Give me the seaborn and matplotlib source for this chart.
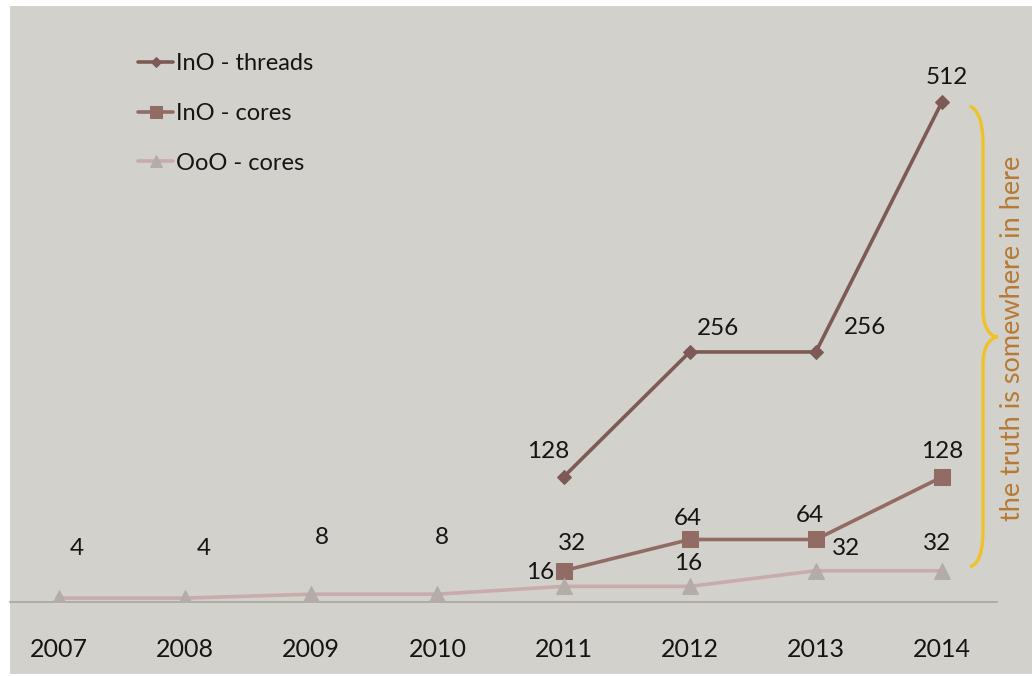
import matplotlib
matplotlib.use("Agg")
import matplotlib.pyplot as plt
import seaborn as sns
import numpy as np
import pandas as pd
from matplotlib.patches import Rectangle, PathPatch
from matplotlib.path import Path

years = ["2007", "2008", "2009", "2010", "2011", "2012", "2013", "2014"]
ino_threads = [np.nan, np.nan, np.nan, np.nan, 128, 256, 256, 512]
ino_cores = [np.nan, np.nan, np.nan, np.nan, 32, 64, 64, 128]
ooo_cores = [4, 4, 8, 8, 16, 16, 32, 32]
series_names = ["InO - threads", "InO - cores", "OoO - cores"]
note_text = "the truth is somewhere in here"

sns.set_theme(style="white")
plt.rcParams["font.family"] = ["Lato", "DejaVu Sans"]

W, H = 1032, 676
fig = plt.figure(figsize=(W / 100, H / 100), dpi=100)
fig.patch.set_facecolor("white")
bg = "#d3d1cb"
fig.patches.append(Rectangle((10 / W, 2 / H), 1 - 10 / W, (670 - 2) / H,
                             transform=fig.transFigure, facecolor=bg,
                             edgecolor="none", zorder=-10))

ax = fig.add_axes([10 / W, 74 / H, 987 / W, 586 / H])
ax.set_facecolor("none")

idx = np.arange(len(years))
df = pd.DataFrame({"x": np.tile(idx, 3),
                   "value": ino_threads + ino_cores + ooo_cores,
                   "series": np.repeat(series_names, len(years))})

c_thr = "#7d5a55"
c_core = "#926b65"
c_ooo_line = "#c8abab"
c_ooo_mk = "#b3aca8"

styles = {
    series_names[0]: dict(color=c_thr, marker="D", markersize=7, lw=2.6,
                          mfc=c_thr, mec=c_thr),
    series_names[1]: dict(color=c_core, marker="s", markersize=11, lw=2.6,
                          mfc=c_core, mec=c_core),
    series_names[2]: dict(color=c_ooo_line, marker="^", markersize=11, lw=2.6,
                          mfc=c_ooo_mk, mec=c_ooo_mk),
}
for name in series_names:
    sub = df[df["series"] == name].dropna()
    st = styles[name]
    sns.lineplot(data=sub, x="x", y="value", ax=ax, color=st["color"],
                 linewidth=st["lw"], marker=st["marker"],
                 markersize=st["markersize"], markerfacecolor=st["mfc"],
                 markeredgecolor=st["mec"], label=name, zorder=3)

ax.set_xlim(-0.388, 7.436)
ax.set_ylim(0, 600)
ax.set_xticks(idx)
ax.set_xticklabels(years, fontsize=18, color="#151515")
ax.set_xticks(np.arange(0.5, 7.5, 1.0), minor=True)
ax.tick_params(axis="x", which="major", length=0, pad=26)
ax.tick_params(axis="x", which="minor", length=7, width=1, color="#a8a49f",
               direction="out")
ax.set_yticks([])
ax.set_xlabel("")
ax.set_ylabel("")
for s in ["left", "right", "top"]:
    ax.spines[s].set_visible(False)
ax.spines["bottom"].set_color("#a8a49f")
ax.spines["bottom"].set_linewidth(1.2)

# data labels (offsets in pixels: dx right, dy up)
def lab(x, y, text, dx, dy):
    ax.annotate(text, (x, y), xytext=(dx * 0.72, dy * 0.72),
                textcoords="offset points", ha="center", va="center",
                fontsize=17.5, color="#151515", zorder=5)

ooo_off = [(18, 50), (19, 50), (11, 57), (4, 57), (-23, 14), (-2, 23), (30, 22), (-5, 27)]
for i, v in enumerate(ooo_cores):
    lab(i, v, str(v), *ooo_off[i])
core_off = {4: (9, 27), 5: (-2, 21), 6: (-6, 24), 7: (0, 25)}
for i, (dx, dy) in core_off.items():
    lab(i, ino_cores[i], str(ino_cores[i]), dx, dy)
thr_off = {4: (-15, 25), 5: (28, 23), 6: (49, 24), 7: (5, 24)}
for i, (dx, dy) in thr_off.items():
    lab(i, ino_threads[i], str(ino_threads[i]), dx, dy)

leg = ax.legend(loc="upper left", bbox_to_anchor=(138 / W, 1 - 53 / H),
                bbox_transform=fig.transFigure,
                frameon=False, fontsize=17, handlelength=1.5, handletextpad=0.1,
                labelspacing=1.22, borderaxespad=0, borderpad=0, markerscale=0.8)
for t in leg.get_texts():
    t.set_color("#151515")

# curly brace in pixel coordinates (y from top)
def px(x, y):
    return (x / W, 1 - y / H)

verts = [px(970, 106), px(982, 112), px(983, 140),
         px(983, 310),
         px(983, 330), px(992, 337), px(998, 337),
         px(992, 337), px(983, 344), px(983, 364),
         px(983, 530),
         px(983, 560), px(975, 565), px(970, 567)]
codes = [Path.MOVETO, Path.CURVE3, Path.CURVE3,
         Path.LINETO,
         Path.CURVE4, Path.CURVE4, Path.CURVE4,
         Path.CURVE4, Path.CURVE4, Path.CURVE4,
         Path.LINETO,
         Path.CURVE4, Path.CURVE4, Path.CURVE4]
brace = PathPatch(Path(verts, codes), transform=fig.transFigure,
                  facecolor="none", edgecolor="#f0c22a", lw=2.4)
fig.patches.append(brace)

fig.text(1013 / W, 1 - 338 / H, note_text, rotation=90, ha="center",
         va="center", fontsize=19.5, color="#b67a35")

fig.savefig("out.png", dpi=100, facecolor=fig.get_facecolor())
